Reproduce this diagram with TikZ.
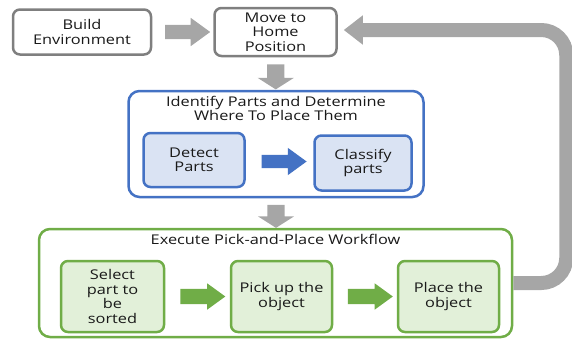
\documentclass[tikz,border=0pt]{standalone}
\usepackage{fontspec}
\setmainfont[FakeStretch=1.22]{Open Sans}
\usetikzlibrary{shapes.arrows, positioning, calc, arrows.meta}
\definecolor{boxgray}{HTML}{7F7F7F}
\definecolor{arrowgray}{HTML}{A6A6A6}
\definecolor{stepblue}{HTML}{4472C4}
\definecolor{paleblue}{HTML}{DAE3F3}
\definecolor{stepgreen}{HTML}{70AD47}
\definecolor{palegreen}{HTML}{E2F0D9}
\tikzset{
every node/.style={font=\fontsize{13.4}{14.4}\selectfont, text=black!90, align=center, inner sep=2pt}, % same text everywhere
graybox/.style={draw=boxgray, line width=2.5pt, rounded corners=7pt, fill=white},
bluestage/.style={draw=stepblue, line width=2.5pt, rounded corners=11pt, fill=white},
bluebox/.style={draw=stepblue, line width=2.5pt, rounded corners=7pt, fill=paleblue},
greenstage/.style={draw=stepgreen, line width=2.5pt, rounded corners=11pt, fill=white},
greenbox/.style={draw=stepgreen, line width=2.5pt, rounded corners=7pt, fill=palegreen},
flatarrow/.style={single arrow, draw=none, single arrow tip angle=72, minimum height=45pt, inner sep=7pt, single arrow head extend=7pt},
downarrow/.style={single arrow, draw=none, fill=arrowgray, shape border rotate=270, single arrow tip angle=115, inner sep=8.5pt, single arrow head extend=9.5pt},
returnband/.style={draw=arrowgray, line width=14pt, rounded corners=25pt, -{Triangle[width=28pt 0, length=19pt 0]}},
}
\begin{document}
\begin{tikzpicture}[x=1pt, y=-1pt]
\useasboundingbox (0,0) rectangle (572,340);
% top row
\node[graybox, minimum width=138pt, minimum height=45pt] (build) at (82,32) {Build\\Environment};
\node[graybox, minimum width=122pt, minimum height=48pt] (home) at (275.5,32) {Move to\\Home\\Position};
\node[flatarrow, fill=arrowgray] (buildhome) at ($(build.east)!0.5!(home.west)$) {};
\node[downarrow, minimum height=25pt] (homeident) at ($(home.south)!0.5!(276,91)$) {};
% identify stage
\node[bluestage, minimum width=295pt, minimum height=106pt] (ident) at (276,144) {};
\node[below=4pt of ident.north] (identtitle) {Identify Parts and Determine\\Where To Place Them};
\node[bluebox, minimum width=101pt, minimum height=54pt] (detect) at (194,160) {Detect\\Parts};
\node[bluebox, minimum width=97pt, minimum height=55pt] (classify) at (363,163) {Classify\\parts};
\node[flatarrow, fill=stepblue, inner sep=6.5pt] (detectclassify) at ($(detect.east)!0.5!(classify.west)$) {};
\node[downarrow, minimum height=20pt] (identexec) at ($(ident.south)!0.5!(276,229)$) {};
% pick and place stage
\node[greenstage, minimum width=473pt, minimum height=108pt] (exec) at (275.5,283) {};
\node[below=4.5pt of exec.north] (exectitle) {Execute Pick-and-Place Workflow};
\node[greenbox, minimum width=103pt, minimum height=71pt] (select) at (112.5,296.5) {Select\\part to\\be\\sorted};
\node[greenbox, minimum width=101pt, minimum height=71pt] (pickup) at (281.5,296.5) {Pick up the\\object};
\node[greenbox, minimum width=101pt, minimum height=71pt] (place) at (448.5,296.5) {Place the\\object};
\node[flatarrow, fill=stepgreen, inner sep=7.5pt, single arrow head extend=5.5pt] (selectpick) at ($(select.east)!0.5!(pickup.west)$) {};
\node[flatarrow, fill=stepgreen, inner sep=7.5pt, single arrow head extend=5.5pt] (pickplace) at ($(pickup.east)!0.5!(place.west)$) {};
% back to home
\draw[returnband, shorten >=6pt] (exec.east) -- ++(53,0) |- ([yshift=2pt]home.east);
\end{tikzpicture}
\end{document}
